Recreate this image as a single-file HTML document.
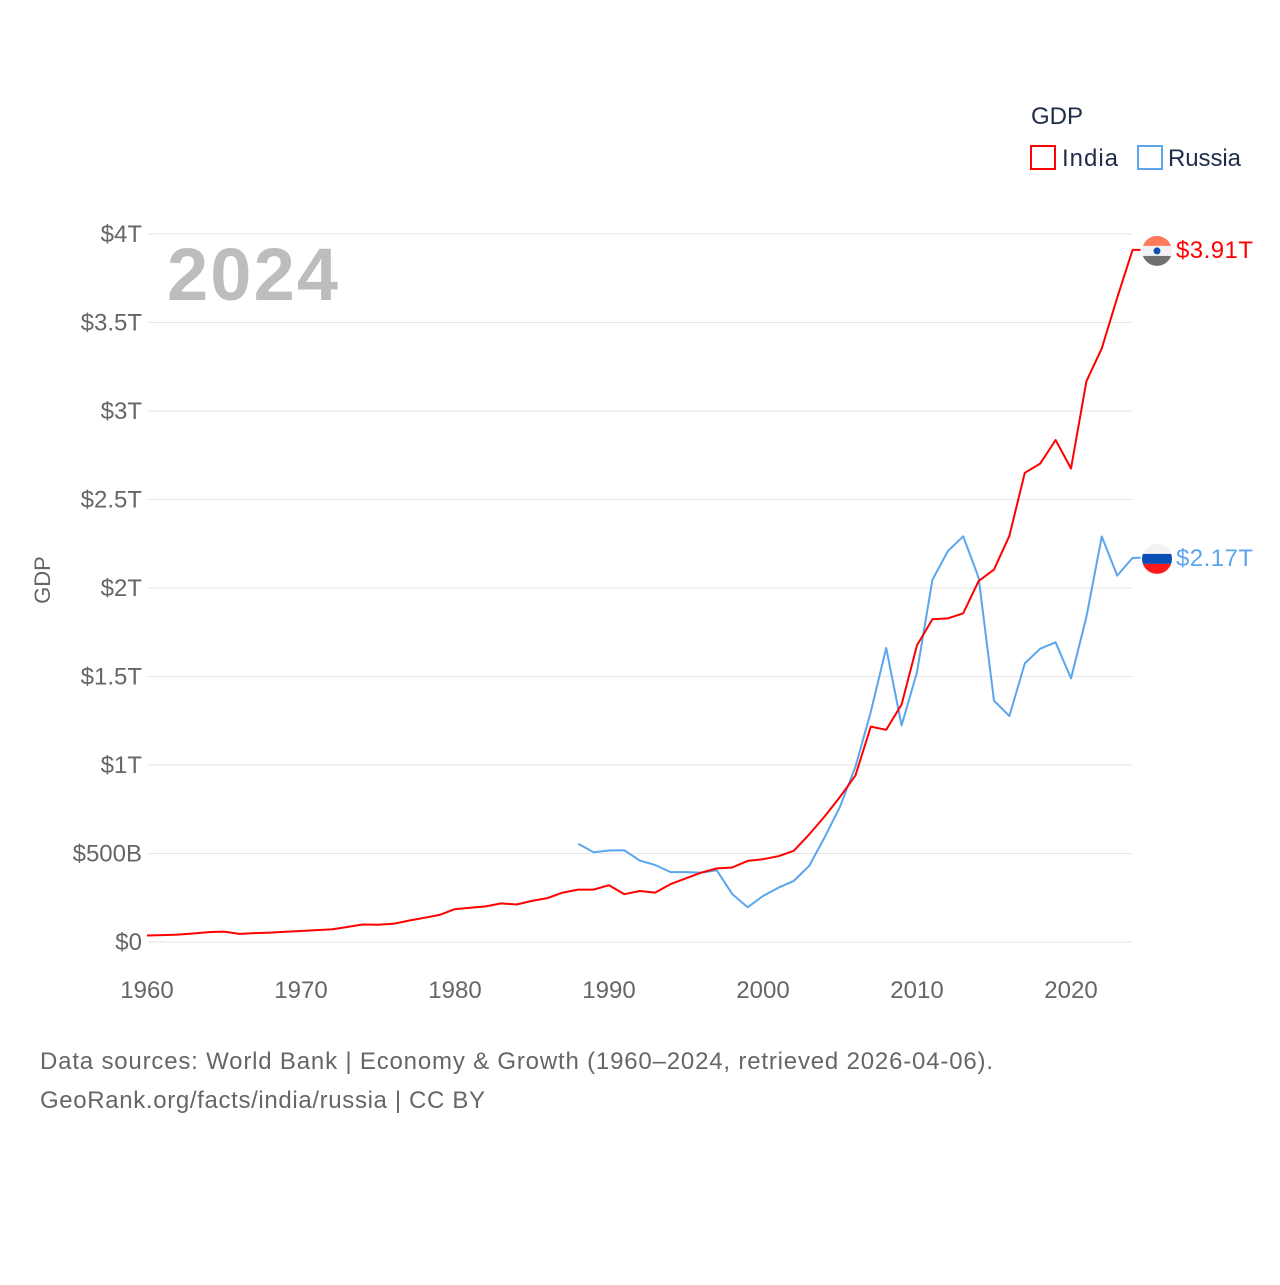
<!DOCTYPE html>
<html><head><meta charset="utf-8"><style>
body{margin:0;background:#fff;font-family:"Liberation Sans",sans-serif}
svg text{font-family:"Liberation Sans",sans-serif}
</style></head><body>
<svg id="c" width="1280" height="1280" viewBox="0 0 1280 1280" xmlns="http://www.w3.org/2000/svg">
<rect width="1280" height="1280" fill="#fff"/>
<g id="grid"></g>
<text x="1031" y="124" font-size="24" fill="#1f2d4a">GDP</text>
<g><rect x="1031" y="146" width="24" height="23" fill="none" stroke="#f00" stroke-width="2"/><text x="1062" y="166" font-size="24" fill="#1f2d4a" textLength="56">India</text></g>
<g><rect x="1138" y="146" width="24" height="23" fill="none" stroke="#5ba5ee" stroke-width="2"/><text x="1168" y="166" font-size="24" fill="#1f2d4a" textLength="73">Russia</text></g>
<text x="167" y="300" font-size="74" font-weight="bold" fill="#bdbdbd" textLength="171">2024</text>
<text transform="translate(50,580) rotate(-90)" text-anchor="middle" font-size="22" fill="#666">GDP</text>
<g id="marks"></g>
<text x="40" y="1069" font-size="24" fill="#666" textLength="953">Data sources: World Bank | Economy &amp; Growth (1960–2024, retrieved 2026-04-06).</text>
<text x="40" y="1108" font-size="24" fill="#666" textLength="445">GeoRank.org/facts/india/russia | CC BY</text>
</svg>
<script>
const yTicks=[0,0.5,1,1.5,2,2.5,3,3.5,4];
const yTickLabels=["$0","$500B","$1T","$1.5T","$2T","$2.5T","$3T","$3.5T","$4T"];
const xTicks=[1960,1970,1980,1990,2000,2010,2020];
const indiaYears=[1960,1961,1962,1963,1964,1965,1966,1967,1968,1969,1970,1971,1972,1973,1974,1975,1976,1977,1978,1979,1980,1981,1982,1983,1984,1985,1986,1987,1988,1989,1990,1991,1992,1993,1994,1995,1996,1997,1998,1999,2000,2001,2002,2003,2004,2005,2006,2007,2008,2009,2010,2011,2012,2013,2014,2015,2016,2017,2018,2019,2020,2021,2022,2023,2024];
const indiaValues=[0.037,0.039,0.042,0.048,0.056,0.059,0.046,0.050,0.053,0.058,0.062,0.067,0.071,0.085,0.099,0.098,0.103,0.121,0.137,0.153,0.186,0.193,0.201,0.218,0.212,0.232,0.248,0.279,0.296,0.296,0.321,0.270,0.288,0.279,0.327,0.360,0.392,0.416,0.421,0.458,0.468,0.485,0.515,0.608,0.709,0.820,0.940,1.217,1.199,1.342,1.676,1.823,1.828,1.857,2.039,2.104,2.295,2.651,2.703,2.836,2.675,3.168,3.354,3.640,3.910];
const russiaYears=[1988,1989,1990,1991,1992,1993,1994,1995,1996,1997,1998,1999,2000,2001,2002,2003,2004,2005,2006,2007,2008,2009,2010,2011,2012,2013,2014,2015,2016,2017,2018,2019,2020,2021,2022,2023,2024];
const russiaValues=[0.555,0.507,0.517,0.518,0.460,0.435,0.395,0.395,0.392,0.405,0.271,0.196,0.260,0.307,0.345,0.430,0.591,0.764,0.990,1.300,1.661,1.223,1.525,2.046,2.208,2.292,2.059,1.363,1.277,1.574,1.657,1.693,1.489,1.837,2.291,2.070,2.170];
const NS="http://www.w3.org/2000/svg";
const X=y=>147+(y-1960)*15.4;
const Y=v=>942-v*177;
const grid=document.getElementById('grid'),marks=document.getElementById('marks');
function mk(tag,attrs,parent){const e=document.createElementNS(NS,tag);for(const k in attrs)e.setAttribute(k,attrs[k]);parent.appendChild(e);return e;}
yTicks.forEach((t,i)=>{
 const l=mk('line',{x1:148,x2:1132,y1:Y(t),y2:Y(t),stroke:'#e6e6e6','stroke-width':1},grid);
 
 
 const tx=mk('text',{x:142,y:Y(t)+8,'text-anchor':'end','font-size':24,fill:'#666'},grid);
 tx.textContent=yTickLabels[i];
 
 
});
xTicks.forEach(t=>{
 const tx=mk('text',{x:X(t),y:998,'text-anchor':'middle','font-size':24,fill:'#666'},grid);
 tx.textContent=t;
 
 
});
function series(years,vals,color,name){
 let d=years.map((y,i)=>(i?'L':'M')+X(y).toFixed(1)+','+Y(vals[i]).toFixed(1)).join('');
 const last=vals[vals.length-1];
 d+='L'+(X(years[years.length-1])+8).toFixed(1)+','+Y(last).toFixed(1);
 const p=mk('path',{d:d,fill:'none',stroke:color,'stroke-width':2,'stroke-linejoin':'round'},marks);
 
 
 const cy=Y(last)+1;
 const g=mk('g',{},marks);
 
 
 const cp=mk('clipPath',{id:'cp'+name},g);mk('circle',{cx:1157,cy:cy,r:15},cp);
 const cols=name==='india'?['#ff7a5c','#f2f2f2','#707070']:['#f2f2f2','#0a4fb5','#ff1a1a'];
 cols.forEach((c,i)=>mk('rect',{x:1142,y:cy-15+i*10,width:30,height:10,fill:c,'clip-path':'url(#cp'+name+')'},g));
 if(name==='india')mk('circle',{cx:1157,cy:cy,r:3.5,fill:'#0a4fb5'},g);
 const tx=mk('text',{x:1176,y:cy+7,'font-size':24,fill:color,textLength:77},marks);
 tx.textContent='$'+last.toFixed(2)+'T';
 
 
}
series(russiaYears,russiaValues,'#5ba5ee','russia');
series(indiaYears,indiaValues,'#ff0000','india');
</script>
</body></html>
